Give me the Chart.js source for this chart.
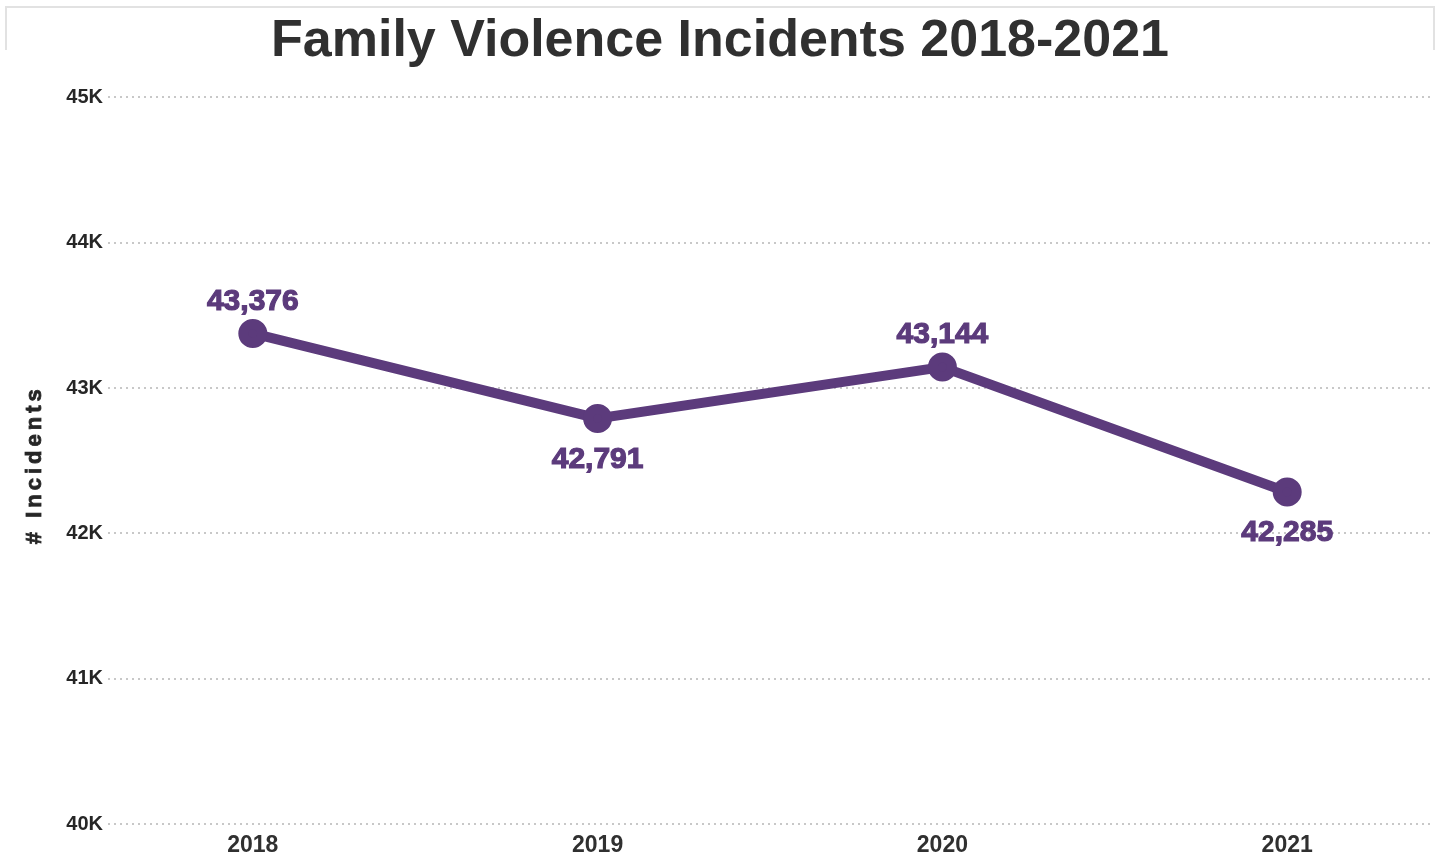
<!DOCTYPE html>
<html>
<head>
<meta charset="utf-8">
<script src="https://cdn.jsdelivr.net/npm/chart.js@4.4.1/dist/chart.umd.min.js"></script>
<style>
  html, body { margin: 0; padding: 0; background: #fff; }
  #wrap { position: relative; width: 1440px; height: 859px; }
  #frame {
    position: absolute; left: 5px; top: 6px; width: 1426px; height: 42px;
    border: 2px solid #e2e2e2; border-bottom: none; pointer-events: none;
  }
</style>
</head>
<body>
<div id="wrap">
  <canvas id="chart" width="1440" height="859"></canvas>
  <div id="frame"></div>
</div>
<script>
  const years = [2018, 2019, 2020, 2021];
  const incidents = [43376, 42791, 43144, 42285];
  const labelSide = ["above", "below", "above", "below"];
  const yTicks = [40000, 41000, 42000, 43000, 44000, 45000];

  const purple = "#5c3b7c";
  const ink = "#262626";
  const font = '"Liberation Sans", Arial, sans-serif';

  // value labels above / below each point
  const pointLabels = {
    id: "pointLabels",
    afterDatasetsDraw(chart) {
      const ctx = chart.ctx;
      const meta = chart.getDatasetMeta(0);
      ctx.save();
      ctx.font = "bold 30px " + font;
      ctx.fillStyle = purple;
      ctx.strokeStyle = purple;
      ctx.lineWidth = 1.2;
      ctx.textAlign = "center";
      ctx.textBaseline = "middle";
      meta.data.forEach((pt, i) => {
        const txt = incidents[i].toLocaleString("en-US");
        const dy = labelSide[i] === "above" ? -32 : 41;
        ctx.fillText(txt, pt.x, pt.y + dy);
        ctx.strokeText(txt, pt.x, pt.y + dy);
      });
      ctx.restore();
    },
  };

  // rotated y axis title, spaced out like the original
  const yTitle = {
    id: "yTitle",
    afterDraw(chart) {
      const ctx = chart.ctx;
      const area = chart.chartArea;
      ctx.save();
      ctx.translate(35, (area.top + area.bottom) / 2 + 4);
      ctx.rotate(-Math.PI / 2);
      ctx.font = "bold 22px " + font;
      ctx.letterSpacing = "4px";
      ctx.fillStyle = ink;
      ctx.strokeStyle = ink;
      ctx.lineWidth = 0.8;
      ctx.textAlign = "center";
      ctx.textBaseline = "middle";
      ctx.fillText("# Incidents", 0, 0);
      ctx.strokeText("# Incidents", 0, 0);
      ctx.restore();
    },
  };

  new Chart(document.getElementById("chart"), {
    type: "line",
    data: {
      datasets: [
        {
          data: years.map((y, i) => ({ x: y, y: incidents[i] })),
          borderColor: purple,
          backgroundColor: purple,
          borderWidth: 10,
          pointRadius: 9.5,
          pointHoverRadius: 9.5,
          tension: 0,
        },
      ],
    },
    options: {
      responsive: false,
      animation: false,
      layout: { padding: 0, autoPadding: false },
      plugins: {
        legend: { display: false },
        tooltip: { enabled: false },
        title: {
          display: true,
          text: "Family Violence Incidents 2018-2021",
          color: "#303030",
          font: { family: font, size: 52, weight: "bold" },
          padding: { top: 10, bottom: 25 },
        },
      },
      scales: {
        x: {
          type: "linear",
          min: 2017.58,
          max: 2021.42,
          afterFit: (axis) => {
            axis.height = 35;
            axis.paddingLeft = 0;
            axis.paddingRight = 8;
          },
          afterBuildTicks: (axis) => {
            axis.ticks = years.map((v) => ({ value: v }));
          },
          ticks: {
            callback: (v) => String(v),
            color: "#303030",
            font: { family: font, size: 23, weight: "bold" },
            padding: 8,
          },
          grid: { display: false, drawTicks: false },
          border: { display: false },
        },
        y: {
          min: yTicks[0],
          max: yTicks[yTicks.length - 1],
          afterFit: (axis) => {
            axis.width = 108;
            axis.paddingTop = 0;
            axis.paddingBottom = 0;
          },
          afterBuildTicks: (axis) => {
            axis.ticks = yTicks.map((v) => ({ value: v }));
          },
          ticks: {
            callback: (v) => v / 1000 + "K",
            color: ink,
            font: { family: font, size: 20, weight: "bold" },
            padding: 5,
          },
          grid: {
            color: "#c8c8c8",
            lineWidth: 2,
            drawTicks: false,
          },
          border: { display: false, dash: [2, 4] },
        },
      },
    },
    plugins: [pointLabels, yTitle],
  });
</script>
</body>
</html>
